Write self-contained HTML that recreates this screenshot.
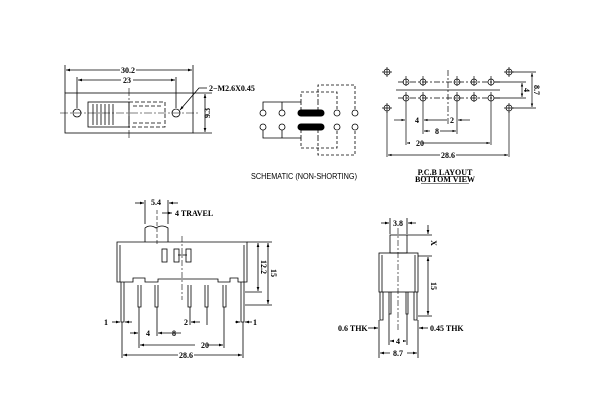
<!DOCTYPE html>
<html><head><meta charset="utf-8"><style>
html,body{margin:0;padding:0;background:#fff;}
svg{display:block;}
text{font-family:"Liberation Serif",serif;font-weight:bold;font-size:8px;fill:#000;}
.s{font-family:"Liberation Sans",sans-serif;font-weight:normal;font-size:8px;}
</style></head><body>
<svg width="600" height="400" viewBox="0 0 600 400" xmlns="http://www.w3.org/2000/svg">
<defs>
<marker id="a" viewBox="0 0 6 6" refX="6" refY="3" markerWidth="5" markerHeight="5" orient="auto-start-reverse"><path d="M0,1 L6,3 L0,5 z" fill="#000"/></marker>
</defs>
<g stroke="#000" fill="none" stroke-width="0.8">
<rect x="65" y="93" width="128" height="40"/>
<line x1="65" y1="65" x2="65" y2="93"/><line x1="193" y1="65" x2="193" y2="93"/>
<line x1="66" y1="70" x2="192" y2="70" marker-start="url(#a)" marker-end="url(#a)"/>
<line x1="77" y1="77" x2="77" y2="108"/><line x1="176" y1="77" x2="176" y2="108"/>
<line x1="78" y1="80" x2="175" y2="80" marker-start="url(#a)" marker-end="url(#a)"/>
<circle cx="77" cy="113" r="4"/><circle cx="176" cy="113" r="4"/>
<line x1="60" y1="113" x2="200" y2="113" stroke-dasharray="8,2,2,2" stroke-width="0.6"/>
<line x1="129" y1="88" x2="129" y2="138" stroke-dasharray="8,2,2,2" stroke-width="0.6"/>
<rect x="88" y="102" width="41" height="25"/>
<path d="M93,104 v21 M97,104 v21 M101,104 v21 M105,104 v21 M109,104 v21 M113,104 v21"/>
<path d="M129,102 H165 V127 H129 M133,106 H163 M133,123 H163" stroke-dasharray="4,2"/>
<line x1="193" y1="93" x2="212" y2="93"/><line x1="193" y1="133" x2="212" y2="133"/>
<line x1="205" y1="94" x2="205" y2="132" marker-start="url(#a)" marker-end="url(#a)"/>
<path d="M207,88 L199,88 L180,110" marker-end="url(#a)"/>
<g>
<circle cx="263" cy="113" r="3"/><circle cx="282" cy="113" r="3"/><circle cx="337" cy="113" r="3"/><circle cx="355" cy="113" r="3"/>
<circle cx="263" cy="127" r="3"/><circle cx="282" cy="127" r="3"/><circle cx="337" cy="127" r="3"/><circle cx="355" cy="127" r="3"/>
<path d="M263,110 V102 H301 M282,110 V102"/>
<path d="M263,130 V138 H301 M282,130 V138"/>
<path d="M301,102 V92 H337 V110 M318,102 V85 H355 V110" stroke-dasharray="3,2"/>
<path d="M301,138 V148 H337 V130 M318,138 V155 H355 V130" stroke-dasharray="3,2"/>
<line x1="301" y1="102" x2="301" y2="110" stroke-dasharray="3,2"/>
<line x1="318" y1="102" x2="318" y2="110" stroke-dasharray="3,2"/>
<line x1="301" y1="130" x2="301" y2="138" stroke-dasharray="3,2"/>
<line x1="318" y1="130" x2="318" y2="138" stroke-dasharray="3,2"/>
</g>
<line x1="301" y1="113" x2="321" y2="113" stroke-width="7" stroke-linecap="round"/>
<line x1="301" y1="127" x2="321" y2="127" stroke-width="7" stroke-linecap="round"/>
<g stroke-width="0.7">
<circle cx="387" cy="72" r="3"/><circle cx="387" cy="108" r="3"/><circle cx="509" cy="72" r="3"/><circle cx="509" cy="108" r="3"/>
<path d="M382,72h10M387,67v10M382,108h10M387,103v10M504,72h10M509,67v10M504,108h10M509,103v10"/>
<circle cx="406" cy="82" r="3"/><circle cx="423" cy="82" r="3"/><circle cx="457" cy="82" r="3"/><circle cx="474" cy="82" r="3"/><circle cx="491" cy="82" r="3"/>
<circle cx="406" cy="98" r="3"/><circle cx="423" cy="98" r="3"/><circle cx="457" cy="98" r="3"/><circle cx="474" cy="98" r="3"/><circle cx="491" cy="98" r="3"/>
<path d="M398,82H500 M398,98H500" stroke-dasharray="6,2,2,2"/>
<path d="M406,76v10M423,76v10M457,76v10M474,76v10M491,76v10M406,92v10M423,92v10M457,92v10M474,92v10M491,92v10"/>
<line x1="396" y1="90" x2="500" y2="90"/>
<line x1="448" y1="70" x2="448" y2="125" stroke-dasharray="6,2,2,2"/>
<path d="M406,102V145 M423,102V134 M457,102V134 M491,102V145 M387,112V157 M509,112V157"/>
<line x1="394" y1="120" x2="405" y2="120" marker-end="url(#a)"/>
<line x1="424" y1="120" x2="447" y2="120" marker-start="url(#a)"/>
<line x1="458" y1="120" x2="470" y2="120" marker-start="url(#a)"/>
<line x1="424" y1="131" x2="456" y2="131" marker-start="url(#a)" marker-end="url(#a)"/>
<line x1="407" y1="143" x2="490" y2="143" marker-start="url(#a)" marker-end="url(#a)"/>
<line x1="388" y1="155" x2="508" y2="155" marker-start="url(#a)" marker-end="url(#a)"/>
<path d="M512,72H536 M512,108H536 M494,82H526 M494,98H526"/>
<line x1="522" y1="83" x2="522" y2="97" marker-start="url(#a)" marker-end="url(#a)"/>
<line x1="532" y1="73" x2="532" y2="107" marker-start="url(#a)" marker-end="url(#a)"/>
<path d="M421,176.5H469 M421,183.5H469" stroke-width="0.5"/>
</g>
<path d="M145,242 V228 Q150,224 156,228 Q162,224 168,228 V242"/>
<path d="M117,242 H247 V282 H238 V278 H230 V282 H218 V279 H158 V282 H145 V278 H133 V282 H117 Z"/>
<path d="M120,245 V282 M244,245 V282"/>
<rect x="162" y="249" width="5" height="13"/><rect x="174" y="249" width="5" height="13"/><rect x="186" y="249" width="5" height="13"/>
<line x1="178" y1="255" x2="187" y2="255"/>
<line x1="182" y1="236" x2="182" y2="300" stroke-dasharray="6,2,2,2" stroke-width="0.6"/>
<line x1="157" y1="210" x2="157" y2="245" stroke-dasharray="4,2" stroke-width="0.6"/>
<path d="M121,282v40h3v-40 M241,282v40h3v-40"/>
<path d="M138,285v22h3v-22 M155,285v22h3v-22 M188,285v22h3v-22 M205,285v22h3v-22 M223,285v22h3v-22"/>
<path d="M145,200V224 M168,200V224 M122,322V358 M243,322V358 M139,307V348 M224,307V348 M157,307V336 M190,307V325 M207,307V325"/>
<line x1="135" y1="203" x2="144" y2="203" marker-end="url(#a)"/>
<line x1="169" y1="203" x2="178" y2="203" marker-start="url(#a)"/>
<line x1="162" y1="213" x2="172" y2="213" marker-end="url(#a)"/>
<line x1="112" y1="322" x2="120" y2="322" marker-end="url(#a)"/>
<line x1="132" y1="322" x2="125" y2="322" marker-end="url(#a)"/>
<line x1="235" y1="322" x2="240" y2="322" marker-end="url(#a)"/>
<line x1="252" y1="322" x2="245" y2="322" marker-end="url(#a)"/>
<line x1="130" y1="333" x2="138" y2="333" marker-end="url(#a)"/>
<line x1="158" y1="333" x2="181" y2="333" marker-start="url(#a)"/>
<line x1="191" y1="322" x2="200" y2="322" marker-start="url(#a)"/>
<line x1="140" y1="345" x2="223" y2="345" marker-start="url(#a)" marker-end="url(#a)"/>
<line x1="123" y1="355" x2="242" y2="355" marker-start="url(#a)" marker-end="url(#a)"/>
<path d="M247,242H272 M245,292H262 M245,305H272"/>
<line x1="258" y1="243" x2="258" y2="291" marker-start="url(#a)" marker-end="url(#a)"/>
<line x1="268" y1="243" x2="268" y2="304" marker-start="url(#a)" marker-end="url(#a)"/>
<rect x="390" y="235" width="17" height="18"/>
<rect x="379" y="253" width="39" height="39"/>
<path d="M382,255 V292 M415,255 V292"/>
<line x1="398" y1="228" x2="398" y2="330" stroke-dasharray="6,2,2,2" stroke-width="0.6"/>
<path d="M380,292v28h3v-28 M389,292v22h2v-22 M406,292v22h2v-22 M414,292v28h3v-28"/>
<path d="M390,218V234 M407,218V234 M407,235H432 M418,256H432 M418,316H432 M379,320V358 M418,320V358 M389,314V345 M407,314V345"/>
<line x1="381" y1="223" x2="389" y2="223" marker-end="url(#a)"/>
<line x1="416" y1="223" x2="408" y2="223" marker-end="url(#a)"/>
<line x1="428" y1="225" x2="428" y2="234" marker-end="url(#a)"/>
<line x1="428" y1="257" x2="428" y2="315" marker-start="url(#a)" marker-end="url(#a)"/>
<line x1="368" y1="328" x2="378" y2="328" marker-end="url(#a)"/>
<line x1="428" y1="328" x2="419" y2="328" marker-end="url(#a)"/>
<line x1="390" y1="341" x2="406" y2="341" marker-start="url(#a)" marker-end="url(#a)"/>
<line x1="380" y1="353" x2="417" y2="353" marker-start="url(#a)" marker-end="url(#a)"/>
</g>
<g fill="#fff" stroke="none">
<rect x="120" y="66" width="16" height="8"/><rect x="121" y="76" width="12" height="8"/>
<rect x="410" y="139" width="12" height="8"/><rect x="440" y="151" width="16" height="8"/>
<rect x="430" y="127" width="10" height="8"/>
<rect x="195" y="341" width="12" height="8"/><rect x="178" y="351" width="16" height="8"/>
<rect x="390" y="349" width="17" height="8"/><rect x="394" y="337" width="9" height="8"/>
</g>
<text x="128" y="73" text-anchor="middle">30.2</text>
<text x="127" y="83" text-anchor="middle">23</text>
<text x="209" y="91">2−M2.6X0.45</text>
<text x="210" y="113" transform="rotate(-90 210 113)" text-anchor="middle">9.3</text>
<text class="s" x="304" y="179" text-anchor="middle" textLength="106" lengthAdjust="spacingAndGlyphs">SCHEMATIC (NON-SHORTING)</text>
<text x="415" y="123">4</text><text x="450" y="123">2</text>
<text x="435" y="134">8</text><text x="416" y="146">20</text><text x="448" y="158" text-anchor="middle">28.6</text>
<text x="524" y="90" transform="rotate(90 524 90)" text-anchor="middle">4</text>
<text x="534" y="90" transform="rotate(90 534 90)" text-anchor="middle">8.7</text>
<text x="445" y="175" text-anchor="middle" font-size="7">P.C.B LAYOUT</text>
<text x="445" y="182" text-anchor="middle" font-size="7">BOTTOM VIEW</text>
<text x="156" y="205" text-anchor="middle">5.4</text>
<text x="175" y="216">4 TRAVEL</text>
<text x="104" y="325">1</text><text x="253" y="325">1</text>
<text x="146" y="336">4</text><text x="184" y="325">2</text><text x="172" y="336">8</text>
<text x="201" y="348">20</text><text x="186" y="358" text-anchor="middle">28.6</text>
<text x="261" y="267" transform="rotate(90 261 267)" text-anchor="middle">12.2</text>
<text x="271" y="273" transform="rotate(90 271 273)" text-anchor="middle">15</text>
<text x="398" y="226" text-anchor="middle">3.8</text>
<text x="431" y="243" transform="rotate(90 431 243)" text-anchor="middle">X</text>
<text x="431" y="286" transform="rotate(90 431 286)" text-anchor="middle">15</text>
<text x="338" y="331">0.6 THK</text><text x="430" y="331">0.45 THK</text>
<text x="398" y="344" text-anchor="middle">4</text><text x="398" y="356" text-anchor="middle">8.7</text>
</svg>
</body></html>
